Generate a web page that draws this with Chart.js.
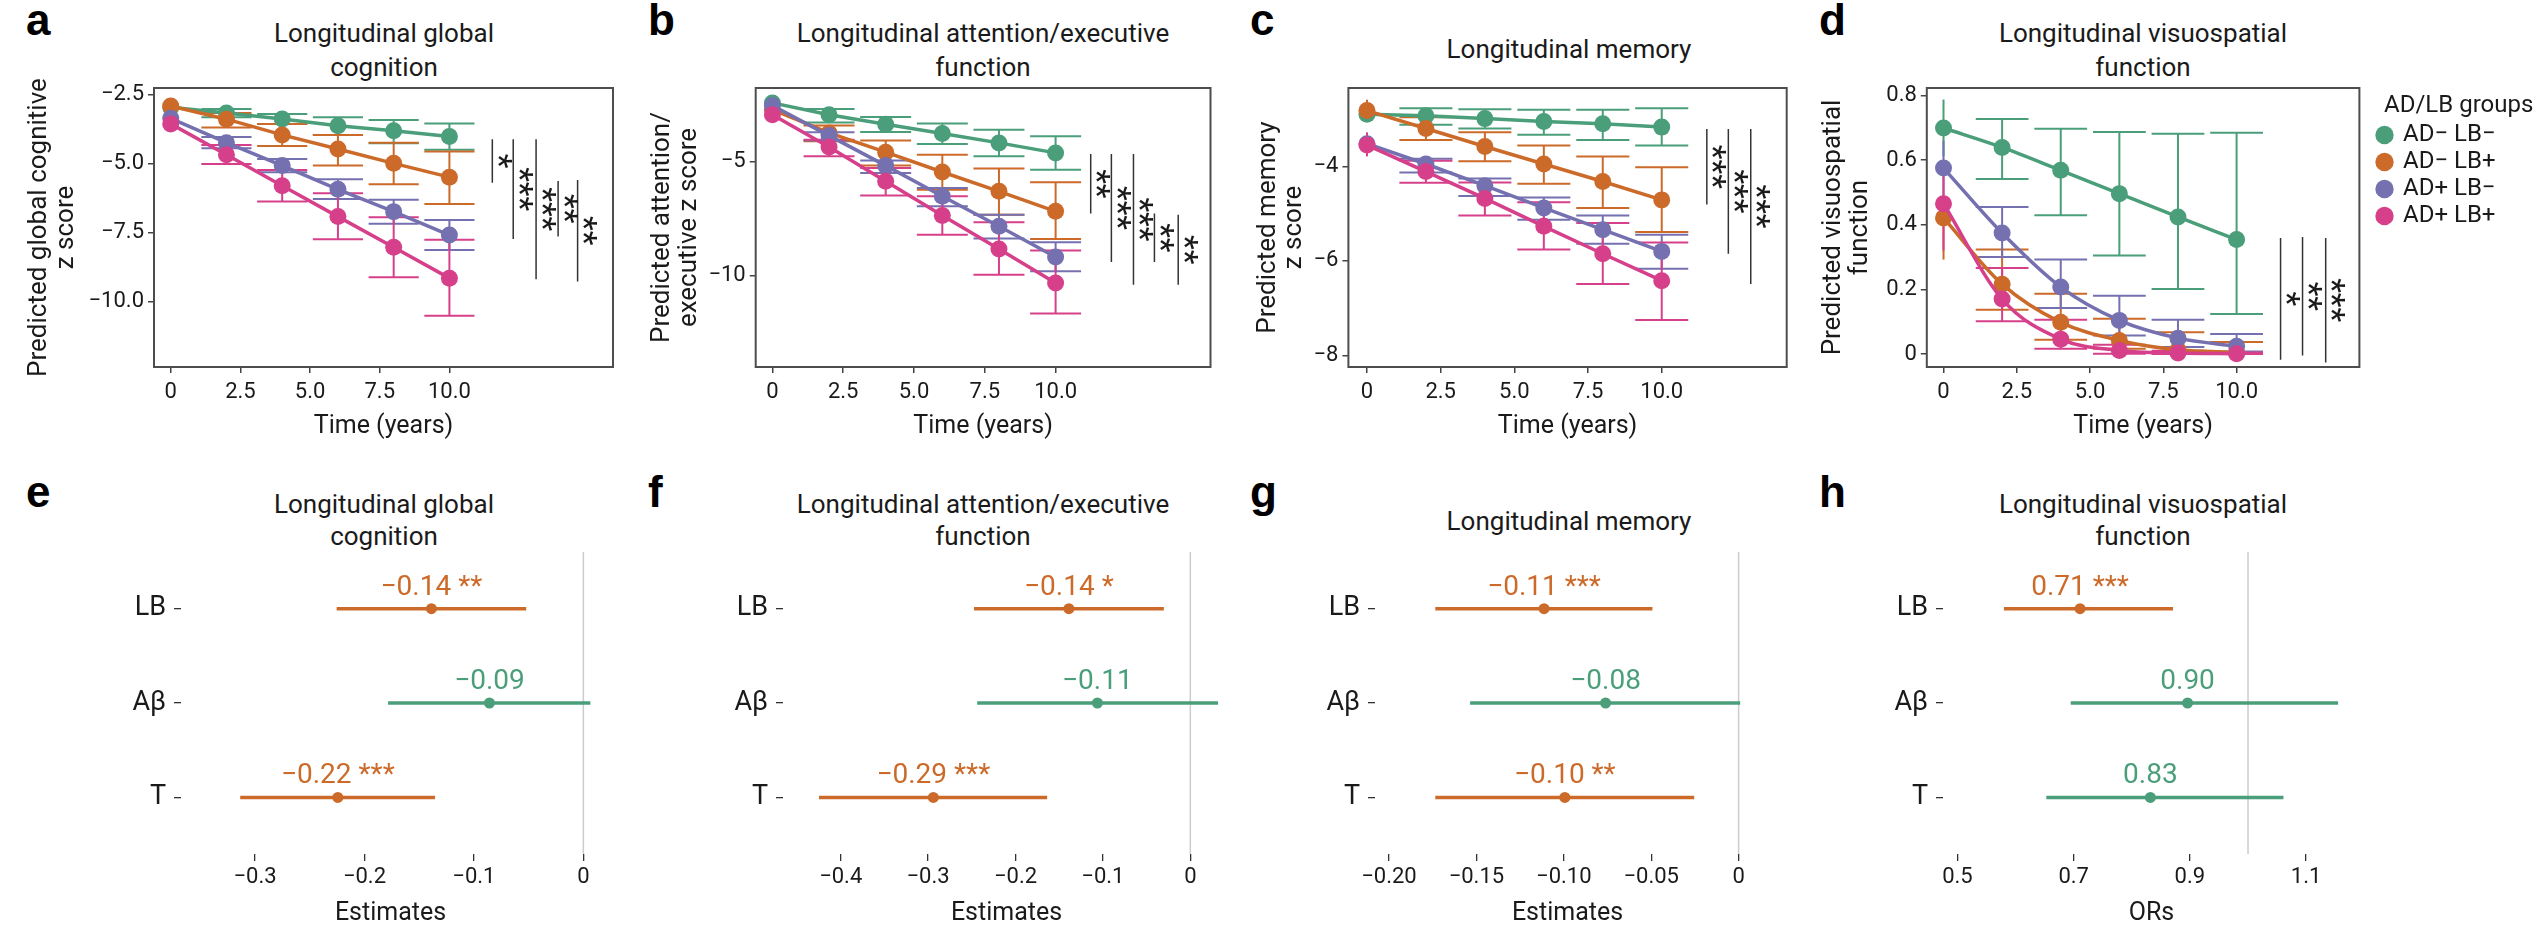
<!DOCTYPE html>
<html>
<head>
<meta charset="utf-8">
<script src="https://cdn.jsdelivr.net/npm/chart.js@4.4.1/dist/chart.umd.min.js"></script>
<style>
  body { margin: 0; width: 2537px; height: 926px; overflow: hidden; background: #fff; position: relative; font-family: Roboto, sans-serif; color: #1a1a1a; }
  canvas { position: absolute; }
  .tag { position: absolute; font: bold 44px/44px 'Liberation Sans', Arial, sans-serif; color: #000; }
  .ttl { position: absolute; width: 640px; margin-left: -320px; text-align: center; font-size: 26px; }
  .t1 { line-height: 34px; }
  .t2 { line-height: 32px; }
</style>
</head>
<body>
<div class="tag" style="left:26px;top:-2px">a</div>
<div class="tag" style="left:648px;top:-2px">b</div>
<div class="tag" style="left:1250px;top:-2px">c</div>
<div class="tag" style="left:1819px;top:-2px">d</div>
<div class="tag" style="left:26px;top:470px">e</div>
<div class="tag" style="left:648px;top:470px">f</div>
<div class="tag" style="left:1250px;top:470px">g</div>
<div class="tag" style="left:1819px;top:470px">h</div>

<div class="ttl t1" style="left:384px;top:16px">Longitudinal global<br>cognition</div>
<div class="ttl t1" style="left:983px;top:16px">Longitudinal attention/executive<br>function</div>
<div class="ttl t1" style="left:1569px;top:32px">Longitudinal memory</div>
<div class="ttl t1" style="left:2143px;top:16px">Longitudinal visuospatial<br>function</div>
<div class="ttl t2" style="left:384px;top:488px">Longitudinal global<br>cognition</div>
<div class="ttl t2" style="left:983px;top:488px">Longitudinal attention/executive<br>function</div>
<div class="ttl t2" style="left:1569px;top:505px">Longitudinal memory</div>
<div class="ttl t2" style="left:2143px;top:488px">Longitudinal visuospatial<br>function</div>

<canvas id="pa" width="623" height="450" style="left:0px;top:0px"></canvas>
<canvas id="pb" width="600" height="450" style="left:630px;top:0px"></canvas>
<canvas id="pc" width="570" height="450" style="left:1230px;top:0px"></canvas>
<canvas id="pd" width="737" height="450" style="left:1800px;top:0px"></canvas>
<canvas id="pe" width="620" height="456" style="left:0px;top:470px"></canvas>
<canvas id="pf" width="610" height="456" style="left:630px;top:470px"></canvas>
<canvas id="pg" width="560" height="456" style="left:1240px;top:470px"></canvas>
<canvas id="ph" width="600" height="456" style="left:1810px;top:470px"></canvas>

<script>
// ---- data ----
const years = [0, 2, 4, 6, 8, 10];
const groupLabels = ['AD− LB−', 'AD− LB+', 'AD+ LB−', 'AD+ LB+'];
const timeTicks = [0, 2.5, 5, 7.5, 10];
const timeTickLabels = ['0', '2.5', '5.0', '7.5', '10.0'];

// a: global cognition (rows: AD−LB−, AD−LB+, AD+LB−, AD+LB+)
const globalMean = [
  [-2.95, -3.16, -3.37, -3.62, -3.80, -4.01],
  [-2.90, -3.38, -3.95, -4.46, -4.98, -5.48],
  [-3.35, -4.23, -5.06, -5.92, -6.73, -7.58],
  [-3.55, -4.67, -5.79, -6.91, -8.02, -9.14]
];
const globalHigh = [
  [-2.80, -3.01, -3.19, -3.31, -3.41, -3.54],
  [-2.72, -3.16, -3.55, -3.95, -4.23, -4.55],
  [-3.15, -4.03, -4.82, -5.56, -6.30, -7.03],
  [-3.35, -4.32, -5.22, -6.06, -6.93, -7.75]
];
const globalLow = [
  [-3.10, -3.31, -3.55, -3.95, -4.25, -4.49],
  [-3.08, -3.68, -4.35, -5.06, -5.74, -6.45],
  [-3.55, -4.43, -5.30, -6.27, -7.17, -8.12],
  [-3.75, -5.00, -6.36, -7.73, -9.11, -10.50]
];
const globalTicks = [-10, -7.5, -5, -2.5];
const globalTickLabels = ['−10.0', '−7.5', '−5.0', '−2.5'];
const globalSigX = [11.54, 12.29, 13.11, 13.90, 14.60];
const globalSigFrom = [-4.11, -4.11, -4.11, -5.62, -5.58];
const globalSigTo = [-5.68, -7.72, -9.18, -7.63, -9.26];
const globalSigStars = ['*', '***', '***', '**', '**'];

// b: attention/executive function
const execMean = [
  [-2.40, -2.92, -3.34, -3.75, -4.16, -4.60],
  [-2.70, -3.72, -4.57, -5.44, -6.29, -7.17],
  [-2.52, -3.84, -5.16, -6.51, -7.83, -9.18],
  [-2.92, -4.34, -5.85, -7.35, -8.83, -10.32]
];
const execHigh = [
  [-2.25, -2.67, -3.02, -3.31, -3.58, -3.87],
  [-2.50, -3.40, -4.05, -4.68, -5.29, -5.89],
  [-2.35, -3.69, -4.94, -6.14, -7.32, -8.53],
  [-2.70, -4.02, -5.26, -6.51, -7.65, -8.89]
];
const execLow = [
  [-2.55, -3.26, -3.68, -4.21, -4.75, -5.34],
  [-2.90, -4.09, -5.16, -6.22, -7.32, -8.39],
  [-2.70, -4.06, -5.48, -6.95, -8.37, -9.81],
  [-3.15, -4.75, -6.47, -8.20, -9.96, -11.67]
];
const execTicks = [-10, -5];
const execTickLabels = ['−10', '−5'];
const execSigX = [11.24, 11.97, 12.75, 13.49, 14.33];
const execSigFrom = [-4.65, -4.65, -4.65, -7.27, -7.32];
const execSigTo = [-7.27, -9.40, -10.40, -9.40, -10.40];
const execSigStars = ['**', '***', '***', '**', '**'];

// c: memory
const memoryMean = [
  [-2.90, -2.93, -2.99, -3.05, -3.10, -3.17],
  [-2.82, -3.20, -3.58, -3.95, -4.32, -4.71],
  [-3.52, -3.95, -4.41, -4.88, -5.34, -5.80],
  [-3.55, -4.11, -4.68, -5.27, -5.85, -6.42]
];
const memoryHigh = [
  [-2.80, -2.77, -2.79, -2.80, -2.80, -2.77],
  [-2.59, -2.96, -3.28, -3.56, -3.79, -4.02],
  [-3.40, -3.84, -4.26, -4.66, -5.04, -5.45],
  [-3.28, -3.88, -4.34, -4.76, -5.20, -5.61]
];
const memoryLow = [
  [-3.00, -3.12, -3.20, -3.33, -3.44, -3.56],
  [-3.05, -3.44, -3.89, -4.37, -4.88, -5.39],
  [-3.68, -4.13, -4.63, -5.13, -5.64, -6.17],
  [-3.79, -4.35, -5.04, -5.76, -6.49, -7.25]
];
const memoryTicks = [-8, -6, -4];
const memoryTickLabels = ['−8', '−6', '−4'];
const memorySigX = [11.53, 12.26, 13.02];
const memorySigFrom = [-3.21, -3.21, -3.21];
const memorySigTo = [-4.81, -5.85, -6.49];
const memorySigStars = ['***', '***', '***'];

// d: visuospatial function
const visuoMean = [
  [0.699, 0.639, 0.568, 0.496, 0.424, 0.354],
  [0.421, 0.216, 0.098, 0.042, 0.013, 0.005],
  [0.575, 0.374, 0.207, 0.104, 0.049, 0.024],
  [0.465, 0.170, 0.046, 0.011, 0.003, 0.001]
];
const visuoHigh = [
  [0.787, 0.727, 0.697, 0.687, 0.681, 0.684],
  [0.490, 0.323, 0.186, 0.109, 0.067, 0.037],
  [0.660, 0.455, 0.292, 0.180, 0.106, 0.062],
  [0.560, 0.266, 0.106, 0.029, 0.010, 0.005]
];
const visuoLow = [
  [0.611, 0.541, 0.429, 0.305, 0.201, 0.124],
  [0.292, 0.137, 0.044, 0.016, 0.005, 0.001],
  [0.490, 0.300, 0.142, 0.057, 0.022, 0.008],
  [0.320, 0.101, 0.016, 0.001, 0.000, 0.000]
];
const visuoTicks = [0, 0.2, 0.4, 0.6, 0.8];
const visuoTickLabels = ['0', '0.2', '0.4', '0.6', '0.8'];
const visuoSigX = [11.50, 12.25, 13.04];
const visuoSigFrom = [0.359, 0.362, 0.359];
const visuoSigTo = [-0.018, -0.005, -0.026];
const visuoSigStars = ['*', '**', '***'];

// e–h: effects of LB, Aβ and T
const predictors = ['LB', 'Aβ', 'T'];
const globalEst = [-0.1388, -0.0858, -0.2243];
const globalCiLow = [-0.2254, -0.1784, -0.3135];
const globalCiHigh = [-0.0522, 0.0064, -0.1355];
const globalStars = ['**', '', '***'];
const globalEstTicks = [-0.3, -0.2, -0.1, 0];
const globalEstTickLabels = ['−0.3', '−0.2', '−0.1', '0'];

const execEst = [-0.1389, -0.1063, -0.2940];
const execCiLow = [-0.2475, -0.2438, -0.4248];
const execCiHigh = [-0.0303, 0.0317, -0.1638];
const execStars = ['*', '', '***'];
const execEstTicks = [-0.4, -0.3, -0.2, -0.1, 0];
const execEstTickLabels = ['−0.4', '−0.3', '−0.2', '−0.1', '0'];

const memoryEst = [-0.1113, -0.0761, -0.0994];
const memoryCiLow = [-0.1735, -0.1536, -0.1735];
const memoryCiHigh = [-0.0493, 0.0009, -0.0254];
const memoryStars = ['***', '', '**'];
const memoryEstTicks = [-0.20, -0.15, -0.10, -0.05, 0];
const memoryEstTickLabels = ['−0.20', '−0.15', '−0.10', '−0.05', '0'];

const visuoOr = [0.711, 0.896, 0.832];
const visuoCiLow = [0.580, 0.695, 0.653];
const visuoCiHigh = [0.871, 1.155, 1.061];
const visuoStars = ['***', '', ''];
const visuoOrTicks = [0.5, 0.7, 0.9, 1.1];
const visuoOrTickLabels = ['0.5', '0.7', '0.9', '1.1'];

// ---- style ----
const groupColors = ['#4a9e7a', '#cc6a2a', '#7570b0', '#d6408a'];
const ink = '#1a1a1a';
const capHalf = 0.9;
const legendFont = 24;
const legendSpacer = '\u2003\u2002';

Chart.defaults.font.family = 'Roboto, sans-serif';
Chart.defaults.color = ink;

const frame = {
  id: 'frame',
  afterDatasetsDraw(chart) {
    const { ctx, chartArea: a } = chart;
    ctx.save();
    ctx.strokeStyle = '#4d4d4d';
    ctx.lineWidth = 2;
    ctx.strokeRect(a.left, a.top, a.right - a.left, a.bottom - a.top);
    ctx.restore();
  }
};

function errorBars(low, high) {
  return {
    id: 'errorBars',
    beforeDatasetsDraw(chart) {
      const { ctx, scales: { x, y } } = chart;
      ctx.save();
      ctx.lineWidth = 2;
      low.forEach((lows, g) => {
        ctx.strokeStyle = groupColors[g];
        lows.forEach((lo, i) => {
          const t = years[i];
          const px = x.getPixelForValue(t);
          const yHi = y.getPixelForValue(high[g][i]);
          const yLo = y.getPixelForValue(lo);
          ctx.beginPath();
          ctx.moveTo(px, yHi);
          ctx.lineTo(px, yLo);
          if (t > 0) {
            const l = x.getPixelForValue(t - capHalf), r = x.getPixelForValue(t + capHalf);
            ctx.moveTo(l, yHi); ctx.lineTo(r, yHi);
            ctx.moveTo(l, yLo); ctx.lineTo(r, yLo);
          }
          ctx.stroke();
        });
      });
      ctx.restore();
    }
  };
}

function textLabels(items) {
  return {
    id: 'textLabels',
    afterDatasetsDraw(chart) {
      const { ctx, scales: { x, y } } = chart;
      items.forEach(it => {
        ctx.save();
        ctx.translate(x.getPixelForValue(it.x) + (it.dx || 0), y.getPixelForValue(it.y) + (it.dy || 0));
        if (it.rotate) ctx.rotate(it.rotate);
        ctx.font = it.font;
        ctx.fillStyle = it.color;
        ctx.textAlign = 'center';
        ctx.textBaseline = 'middle';
        ctx.fillText(it.text, 0, 0);
        ctx.restore();
      });
    }
  };
}

const fixedTicks = values => scale => { scale.ticks = values.map(v => ({ value: v })); };

// width the vertical legend will take: padding + box + gap + widest text + 10
function legendWidth() {
  const ctx = document.createElement('canvas').getContext('2d');
  ctx.font = legendFont + 'px Roboto, sans-serif';
  const textW = Math.max(...groupLabels.map(t => ctx.measureText(t + legendSpacer).width));
  return 3 + 13 + legendFont / 2 + textW + 10;
}

function timeChart(id, p) {
  const datasets = [3, 2, 1, 0].map(g => ({
    label: groupLabels[g],
    data: years.map((t, i) => ({ x: t, y: p.mean[g][i] })),
    borderColor: groupColors[g],
    backgroundColor: groupColors[g],
    borderWidth: 3.5,
    pointRadius: 8.5,
    pointHoverRadius: 8.5,
    pointBorderWidth: 0,
    cubicInterpolationMode: p.smooth ? 'monotone' : 'default'
  }));
  p.sigX.forEach((sx, k) => datasets.push({
    label: '',
    data: [{ x: sx, y: p.sigFrom[k] }, { x: sx, y: p.sigTo[k] }],
    borderColor: '#333',
    borderWidth: 1.5,
    pointRadius: 0
  }));
  const stars = p.sigX.map((sx, k) => ({
    x: sx, y: (p.sigFrom[k] + p.sigTo[k]) / 2, dx: 4, text: p.sigStars[k],
    rotate: Math.PI / 2, font: '34px Roboto', color: ink
  }));

  const scales = {
    x: {
      type: 'linear', min: p.xMin, max: p.xMax,
      afterBuildTicks: fixedTicks(timeTicks),
      ticks: { callback: (v, i) => timeTickLabels[i], font: { size: 22 }, padding: 6, autoSkip: false, maxRotation: 0 },
      grid: { drawOnChartArea: false, tickLength: 6, color: '#444', lineWidth: 1.5 },
      border: { display: false },
      title: { display: true, text: 'Time (years)', font: { size: 25 }, padding: { top: 0, bottom: 8 } },
      afterFit: s => { s.height = 83; }
    },
    y: {
      type: 'linear', min: p.yMin, max: p.yMax,
      afterBuildTicks: fixedTicks(p.ticks),
      ticks: { callback: (v, i) => p.tickLabels[i], font: { size: 22 }, padding: 4, autoSkip: false },
      grid: { drawOnChartArea: false, tickLength: 6, color: '#444', lineWidth: 1.5 },
      border: { display: false },
      title: { display: true, text: p.yTitle, font: { size: 26, lineHeight: 1.02 }, padding: { top: p.yTitlePad, bottom: 0 } },
      afterFit: s => { s.width = p.yWidth; }
    }
  };
  let legend = { display: false };
  let padRight = p.padRight;
  if (p.legend) {
    const lw = legendWidth();
    padRight = p.canvasWidth - p.areaRight - p.legendGap - lw;
    scales.gap = {
      type: 'linear', position: 'right', display: true,
      ticks: { display: false }, grid: { display: false }, border: { display: false },
      afterFit: s => { s.width = p.legendGap; }
    };
    legend = {
      display: true, position: 'right', align: 'start', reverse: true, maxWidth: 400,
      title: { display: true, text: 'AD/LB groups', font: { size: legendFont, lineHeight: 1 }, color: ink, padding: { top: 6, bottom: 2 } },
      labels: {
        usePointStyle: true, pointStyle: 'circle', boxWidth: 13, boxHeight: 13, padding: 3,
        font: { size: legendFont }, color: ink,
        generateLabels: chart => Chart.defaults.plugins.legend.labels.generateLabels(chart)
          .map(l => ({ ...l, text: l.text + legendSpacer, lineWidth: 0 })),
        filter: item => item.datasetIndex < 4
      }
    };
  }
  new Chart(document.getElementById(id), {
    type: 'line',
    data: { datasets },
    options: {
      responsive: false,
      animation: false,
      layout: { padding: { top: 88, right: padRight, bottom: 0, left: 0 } },
      plugins: { legend, tooltip: { enabled: false } },
      scales
    },
    plugins: [frame, errorBars(p.low, p.high), textLabels(stars)]
  });
}

function forestChart(id, p) {
  const colorOf = i => (p.stars[i] ? groupColors[1] : groupColors[0]);
  const rows = predictors.map((_, i) => i + 1);
  const datasets = [
    {
      data: p.est.map((e, i) => ({ x: e, y: rows[i] })),
      showLine: false, pointRadius: 5.5, pointHoverRadius: 5.5, pointBorderWidth: 0,
      pointBackgroundColor: rows.map((_, i) => colorOf(i)), order: 0
    },
    ...rows.map((r, i) => ({
      data: [{ x: p.low[i], y: r }, { x: p.high[i], y: r }],
      borderColor: colorOf(i), borderWidth: 3.5, pointRadius: 0, order: 1
    })),
    {
      data: [{ x: p.ref, y: 0.4 }, { x: p.ref, y: 3.6 }],
      borderColor: '#cccccc', borderWidth: 1.5, pointRadius: 0, order: 2
    }
  ];
  const fmt = v => v.toFixed(2).replace('-', '−');
  const labels = p.est.map((e, i) => ({
    x: e, y: rows[i], dy: -21, text: (fmt(e) + ' ' + p.stars[i]).trim(),
    font: '28px Roboto', color: colorOf(i)
  }));
  new Chart(document.getElementById(id), {
    type: 'line',
    data: { datasets },
    options: {
      responsive: false,
      animation: false,
      layout: { padding: { top: 82, right: p.padRight, bottom: 0, left: 0 } },
      plugins: { legend: { display: false }, tooltip: { enabled: false } },
      scales: {
        x: {
          type: 'linear', min: p.xMin, max: p.xMax,
          afterBuildTicks: fixedTicks(p.ticks),
          ticks: { callback: (v, i) => p.tickLabels[i], font: { size: 22 }, padding: 3, autoSkip: false, maxRotation: 0 },
          grid: { drawOnChartArea: false, tickLength: 7, color: '#333', lineWidth: 1.3 },
          border: { display: false },
          title: { display: true, text: p.xTitle, font: { size: 25, lineHeight: 1 }, padding: 0 },
          afterFit: s => { s.height = 72; }
        },
        y: {
          type: 'linear', min: 0.4, max: 3.6, reverse: true,
          afterBuildTicks: fixedTicks(rows),
          ticks: { callback: (v, i) => predictors[i], font: { size: 27 }, padding: 8, autoSkip: false },
          grid: { drawOnChartArea: false, tickLength: 7, color: '#333', lineWidth: 1.3 },
          border: { display: false },
          afterFit: s => { s.width = p.yWidth; }
        }
      }
    },
    plugins: [textLabels(labels)]
  });
}

timeChart('pa', {
  mean: globalMean, low: globalLow, high: globalHigh,
  ticks: globalTicks, tickLabels: globalTickLabels,
  sigX: globalSigX, sigFrom: globalSigFrom, sigTo: globalSigTo, sigStars: globalSigStars,
  xMin: -0.6, xMax: 15.87, yMin: -12.36, yMax: -2.25,
  yTitle: ['Predicted global cognitive', 'z score'], yTitlePad: 26.7, yWidth: 154, padRight: 10
});
timeChart('pb', {
  mean: execMean, low: execLow, high: execHigh,
  ticks: execTicks, tickLabels: execTickLabels,
  sigX: execSigX, sigFrom: execSigFrom, sigTo: execSigTo, sigStars: execSigStars,
  xMin: -0.59, xMax: 15.47, yMin: -14.02, yMax: -1.745,
  yTitle: ['Predicted attention/', 'executive z score'], yTitlePad: 19.3, yWidth: 125.7, padRight: 19.5
});
timeChart('pc', {
  mean: memoryMean, low: memoryLow, high: memoryHigh,
  ticks: memoryTicks, tickLabels: memoryTickLabels,
  sigX: memorySigX, sigFrom: memorySigFrom, sigTo: memorySigTo, sigStars: memorySigStars,
  xMin: -0.63, xMax: 14.24, yMin: -8.247, yMax: -2.342,
  yTitle: ['Predicted memory', 'z score'], yTitlePad: 24.8, yWidth: 118.4, padRight: 13.3
});
timeChart('pd', {
  mean: visuoMean, low: visuoLow, high: visuoHigh,
  ticks: visuoTicks, tickLabels: visuoTickLabels,
  sigX: visuoSigX, sigFrom: visuoSigFrom, sigTo: visuoSigTo, sigStars: visuoSigStars,
  xMin: -0.57, xMax: 14.19, yMin: -0.0402, yMax: 0.8227,
  yTitle: ['Predicted visuospatial', 'function'], yTitlePad: 20.3, yWidth: 126.8,
  canvasWidth: 737, areaRight: 559.4, legendGap: 15.6,
  smooth: true, legend: true
});

forestChart('pe', {
  est: globalEst, low: globalCiLow, high: globalCiHigh, stars: globalStars, ref: 0,
  ticks: globalEstTicks, tickLabels: globalEstTickLabels, xTitle: 'Estimates',
  xMin: -0.3676, xMax: 0.0152, yWidth: 181, padRight: 20
});
forestChart('pf', {
  est: execEst, low: execCiLow, high: execCiHigh, stars: execStars, ref: 0,
  ticks: execEstTicks, tickLabels: execEstTickLabels, xTitle: 'Estimates',
  xMin: -0.466, xMax: 0.0454, yWidth: 153, padRight: 10
});
forestChart('pg', {
  est: memoryEst, low: memoryCiLow, high: memoryCiHigh, stars: memoryStars, ref: 0,
  ticks: memoryEstTicks, tickLabels: memoryEstTickLabels, xTitle: 'Estimates',
  xMin: -0.208, xMax: 0.01224, yWidth: 135, padRight: 40
});
forestChart('ph', {
  est: visuoOr, low: visuoCiLow, high: visuoCiHigh, stars: visuoStars, ref: 1,
  ticks: visuoOrTicks, tickLabels: visuoOrTickLabels, xTitle: 'ORs',
  xMin: 0.4752, xMax: 1.1927, yWidth: 133, padRight: 50
});
</script>
</body>
</html>
